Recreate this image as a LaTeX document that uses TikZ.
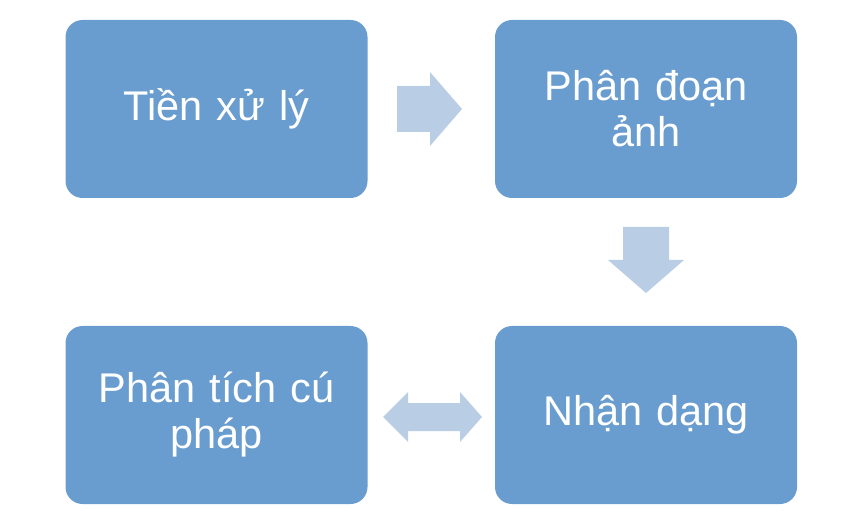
\documentclass[tikz,border=0pt]{standalone}
\usepackage{fontspec}
\setmainfont{Liberation Sans}
\definecolor{boxblue}{HTML}{6A9DCF}
\definecolor{arrowblue}{HTML}{B9CDE5}
\begin{document}
\begin{tikzpicture}[x=1pt,y=-1pt,
  stepbox/.style={draw=none,fill=boxblue,rounded corners=17pt,minimum width=302pt,minimum height=178pt,
    text=white,align=center,font=\fontsize{41.5}{46}\selectfont,inner sep=0pt,text width=290pt},
  flowarrow/.style={fill=arrowblue,draw=none}]
\useasboundingbox (0,0) rectangle (848,518);
\node[stepbox] (pre) at (216.5,109) {Tiền xử lý};
\node[stepbox] (seg) at (646,109) {Phân đoạn\\ảnh};
\node[stepbox] (rec) at (646,415) {Nhận dạng};
\node[stepbox] (syn) at (216.5,415) {Phân tích cú\\pháp};
% right arrow
\coordinate (ra) at (397,109);
\fill[flowarrow] (ra) ++(0,-23) -- ++(33,0) -- ++(0,-14) -- ++(32,37) -- ++(-32,37) -- ++(0,-14) -- ++(-33,0) -- cycle;
% down arrow
\coordinate (da) at (646,227);
\fill[flowarrow] (da) ++(-23,0) -- ++(46,0) -- ++(0,33) -- ++(15,0) -- ++(-38,33) -- ++(-38,-33) -- ++(15,0) -- cycle;
% double arrow
\coordinate (dd) at (383,417);
\fill[flowarrow] (dd) -- ++(25,-25) -- ++(0,11) -- ++(52,0) -- ++(0,-11) -- ++(22,25) -- ++(-22,25) -- ++(0,-11) -- ++(-52,0) -- ++(0,11) -- cycle;
\end{tikzpicture}
\end{document}
